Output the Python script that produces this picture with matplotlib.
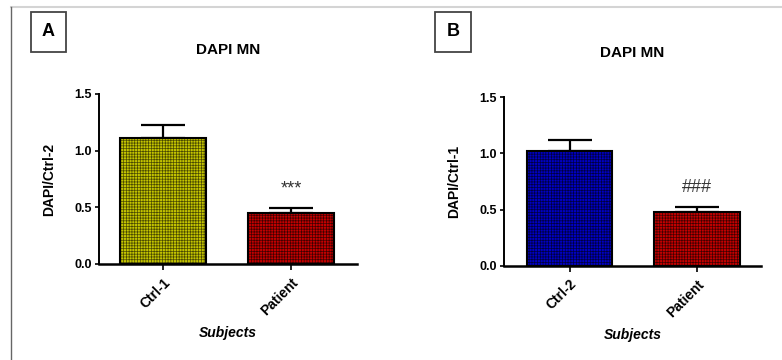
import numpy as np
import matplotlib
matplotlib.use('Agg')
import matplotlib.pyplot as plt
from matplotlib.lines import Line2D
from matplotlib.patches import Rectangle

# chart values
groups_a = ['Ctrl-1', 'Patient']
means_a = [1.11, 0.45]
sem_a = [0.115, 0.045]
colors_a = ['#c4c400', '#c40000']
texture_a = ['#4a4a00', '#400000']

groups_b = ['Ctrl-2', 'Patient']
means_b = [1.02, 0.48]
sem_b = [0.10, 0.045]
colors_b = ['#0000c4', '#c40000']
texture_b = ['#000040', '#400000']

yticks = [0.0, 0.5, 1.0, 1.5]
marks = ['***', '###']

plt.rcParams['font.family'] = ['Liberation Sans', 'DejaVu Sans']
plt.rcParams['hatch.linewidth'] = 0.5

fig = plt.figure(figsize=(7.82, 3.6), dpi=100)
fig.patch.set_facecolor('white')

# page frame lines
fig.add_artist(Line2D([11 / 782, 1], [1 - 7 / 360, 1 - 7 / 360], color='#d4d4d4', lw=1.5))
fig.add_artist(Line2D([11 / 782, 11 / 782], [0, 1 - 7 / 360], color='#666666', lw=1.0))


# one bar panel like the prism output
def draw_panel(rect, xlim, groups, means, sems, colors, texture, ylabel, mark, letter, letter_box):
    ax = fig.add_axes(rect)
    x = np.arange(len(groups))
    # textured fill (hatch takes the edge colour), then the black outline on top
    ax.bar(x, means, width=0.67, color=colors, edgecolor=texture, linewidth=0,
           hatch='++++++', zorder=2)
    ax.bar(x, means, width=0.67, fill=False, edgecolor='black', linewidth=1.5, zorder=3)
    ax.errorbar(x, means, yerr=[np.zeros(len(sems)), sems], fmt='none', ecolor='black',
                elinewidth=1.6, capsize=15.5, capthick=1.6, zorder=1)
    ax.text(x[1], means[1] + sems[1] + 0.17, mark, ha='center', va='center',
            fontsize=13, color='#333333')
    ax.set_xlim(*xlim)
    ax.set_ylim(0, 1.5)
    ax.set_yticks(yticks)
    ax.set_yticklabels([f'{t:.1f}' for t in yticks], fontsize=9, fontweight='bold')
    ax.set_xticks(x)
    ax.set_xticklabels(groups, rotation=45, ha='right', fontsize=10, fontweight='bold',
                       rotation_mode='anchor')
    ax.tick_params(axis='y', length=3, width=1.2, pad=2)
    ax.tick_params(axis='x', length=4, width=1.2, pad=4)
    for s in ['top', 'right']:
        ax.spines[s].set_visible(False)
    ax.spines['left'].set_linewidth(1.4)
    ax.spines['bottom'].set_linewidth(1.8)
    ax.set_ylabel(ylabel, fontsize=10, fontweight='bold', labelpad=13)
    ax.set_xlabel('Subjects', fontsize=10, fontweight='bold', style='italic', labelpad=6)
    ax.set_title('DAPI MN', fontsize=11, fontweight='bold', pad=29)
    # panel letter in a box
    bx, by, bw, bh = letter_box
    fig.add_artist(Rectangle((bx / 782, 1 - (by + bh) / 360), bw / 782, bh / 360,
                             fill=False, edgecolor='#444444', lw=1.3))
    fig.text((bx + bw / 2) / 782, 1 - (by + bh / 2) / 360, letter, ha='center',
             va='center', fontsize=13, fontweight='bold')
    return ax


draw_panel([99 / 782, 1 - 264 / 360, 258 / 782, 170 / 360], (-0.5, 1.516),
           groups_a, means_a, sem_a, colors_a, texture_a, 'DAPI/Ctrl-2', marks[0], 'A',
           (31, 12, 35, 40))
draw_panel([504 / 782, 1 - 266 / 360, 257 / 782, 169 / 360], (-0.514, 1.502),
           groups_b, means_b, sem_b, colors_b, texture_b, 'DAPI/Ctrl-1', marks[1], 'B',
           (435, 12, 36, 40))

fig.savefig('out.png', dpi=100)
